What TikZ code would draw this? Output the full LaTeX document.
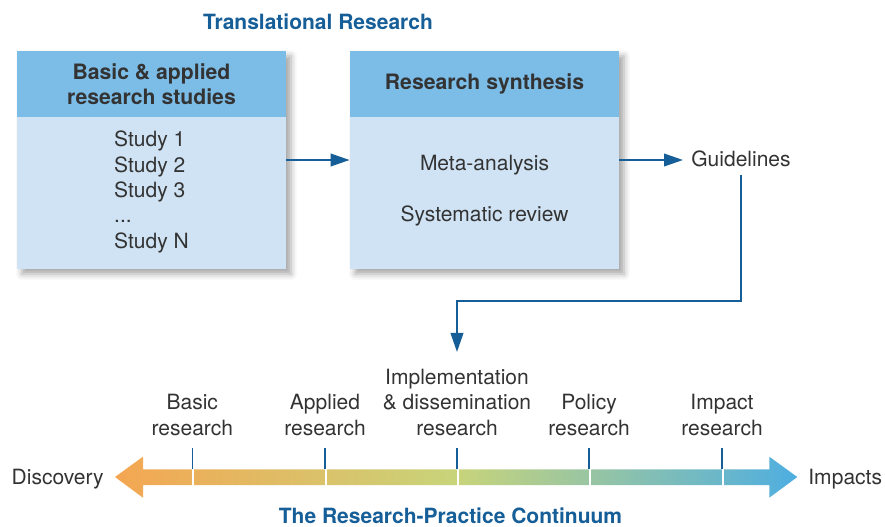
\documentclass[tikz,border=0pt]{standalone}
\usepackage{fontspec}
\setmainfont{TeX Gyre Heros}
\usetikzlibrary{arrows.meta,shadows.blur}

\definecolor{navy}{RGB}{22,94,152}
\definecolor{headblue}{RGB}{124,189,232}
\definecolor{bodyblue}{RGB}{207,227,244}
\definecolor{ink}{RGB}{51,51,51}
\definecolor{orangeend}{RGB}{245,166,82}
\definecolor{limemid}{RGB}{200,212,122}
\definecolor{skyend}{RGB}{78,174,225}

\tikzset{
  txt/.style={font=\fontsize{10.5}{12.65}\selectfont, text=ink, inner sep=0pt},
  title/.style={font=\fontsize{10.5}{12.65}\selectfont\bfseries, text=navy, inner sep=0pt},
  panel/.style={fill=bodyblue, minimum width=134.5pt, minimum height=109pt, inner sep=0pt,
    blur shadow={shadow xshift=2.5pt, shadow yshift=-2.5pt, shadow blur radius=3pt, shadow opacity=35}},
  panelhead/.style={fill=headblue, minimum width=134.5pt, minimum height=33pt, inner sep=0pt,
    font=\fontsize{10.6}{12.75}\selectfont\bfseries, text=ink, align=center},
  flow/.style={draw=navy, line width=0.95pt, -{Triangle[length=9.5pt,width=6.3pt]}},
  tick/.style={draw=navy, line width=0.8pt},
}

\begin{document}
\begin{tikzpicture}[x=0.5pt, y=-0.5pt]
    \useasboundingbox (0,0) rectangle (885,526);

    \node[title, anchor=base] (toptitle) at (318,29.3) {Translational Research};

    % the two panels
    \node[panel] (studies) at (151.5,160) {};
    \node[panelhead, anchor=north] (studieshead) at (studies.north)
          {Basic \& applied\\research studies};
    \node[txt, align=left] (studylist) at (151.5,192)
          {Study 1\\Study 2\\Study 3\\...\\Study N};

    \node[panel] (synth) at (484.5,160) {};
    \node[panelhead, anchor=north] (synthhead) at (synth.north) {Research synthesis};
    \node[txt, anchor=base] (meta) at (484.5,170) {Meta-analysis};
    \node[txt, anchor=base] (review) at (484.5,221.5) {Systematic review};

    \node[txt, inner sep=4pt, anchor=base west] (guide) at (683,166) {Guidelines};

    % continuum band (middle color last, or it gets reset)
    \shade[left color=orangeend, right color=skyend, middle color=limemid]
          (115,477) -- (143,456.7) -- (143,469.3) -- (769.3,469.3)
          -- (769.3,456.7) -- (797.3,477) -- (769.3,497.7) -- (769.3,485)
          -- (143,485) -- (143,497.7) -- cycle;
    \foreach \x/\name/\lbl in {192.3/basic/{Basic\\research},
                               325/applied/{Applied\\research},
                               457/impl/{Implementation\\\& dissemination\\research},
                               589/policy/{Policy\\research},
                               722/impact/{Impact\\research}}{
        \draw[white, line width=1pt] (\x+1,469.3) -- (\x+1,485);
        \draw[tick] (\x,447.7) -- (\x,469);
        \node[txt, align=center, anchor=south] (\name) at (\x,436) {\lbl};
    }
    \node[txt, anchor=base east] (discovery) at (104,484) {Discovery};
    \node[txt, anchor=base west] (impacts) at (808,484) {Impacts};

    \node[title, anchor=base] (bottomtitle) at (450.5,523.3)
          {The Research-Practice Continuum};

    % connectors
    \draw[flow] (studies.east) -- (synth.west);
    \draw[flow] (synth.east) -- (synth.east -| guide.west);
    \draw[flow] (guide.south) -- ++(0,126) -| ([yshift=8.5pt]impl.north);
\end{tikzpicture}
\end{document}
